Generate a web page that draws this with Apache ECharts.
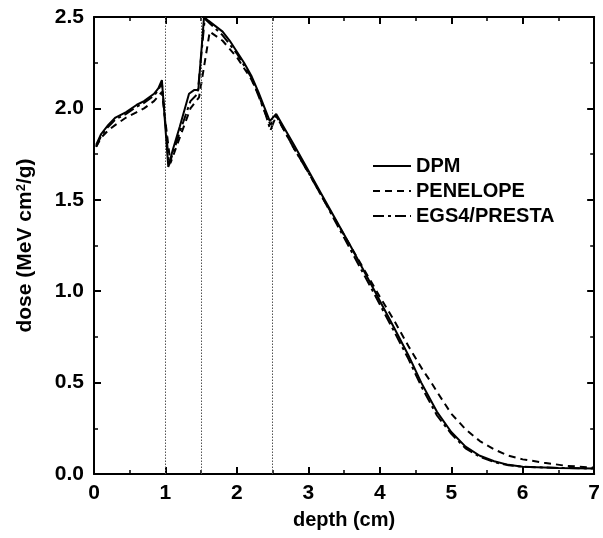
<!DOCTYPE html>
<html><head><meta charset="utf-8">
<script src="https://cdn.jsdelivr.net/npm/echarts@6/dist/echarts.min.js"></script>
<style>html,body{margin:0;padding:0;background:#fff}#c{width:603px;height:538px}</style>
</head><body><div id="c"></div>
<script>
// depth (cm) and dose (MeV cm^2/g)
const dpmX = [0.03,0.1,0.2,0.3,0.45,0.6,0.7,0.84,0.9,0.95,1.04,1.1,1.2,1.33,1.40,1.46,1.54,1.6,1.7,1.8,1.9,2.0,2.1,2.2,2.3,2.4,2.46,2.55,2.8,3.0,3.2,3.6,3.93,4.2,4.4,4.58,4.8,5.0,5.2,5.4,5.6,5.8,6.0,6.5,7.0];
const dpmY = [1.80,1.86,1.91,1.95,1.98,2.02,2.04,2.08,2.11,2.155,1.68,1.77,1.90,2.08,2.10,2.10,2.50,2.48,2.45,2.42,2.37,2.31,2.25,2.18,2.09,1.99,1.93,1.97,1.80,1.66,1.52,1.24,1.00,0.80,0.65,0.50,0.34,0.23,0.15,0.10,0.07,0.05,0.04,0.033,0.03];
const penX = [0.03,0.1,0.2,0.3,0.45,0.6,0.7,0.84,0.95,1.07,1.2,1.35,1.47,1.62,1.8,2.0,2.2,2.3,2.4,2.47,2.55,2.8,3.0,3.2,3.6,4.0,4.2,4.4,4.6,4.72,4.8,5.0,5.2,5.4,5.6,5.8,6.0,6.3,6.6,7.0];
const penY = [1.79,1.84,1.88,1.91,1.95,1.98,2.00,2.04,2.09,1.70,1.84,2.00,2.06,2.42,2.37,2.28,2.16,2.08,1.97,1.91,1.96,1.78,1.65,1.51,1.24,0.97,0.84,0.70,0.57,0.50,0.45,0.33,0.245,0.18,0.135,0.10,0.08,0.062,0.045,0.035];
const egsX = [0.03,0.1,0.2,0.3,0.45,0.6,0.7,0.84,0.9,0.95,1.05,1.2,1.35,1.45,1.55,1.8,2.0,2.2,2.4,2.47,2.55,2.8,3.0,3.2,3.6,3.93,4.2,4.4,4.58,4.8,5.0,5.2,5.4,5.6,5.8,6.0,6.5,7.0];
const egsY = [1.79,1.85,1.90,1.94,1.97,2.01,2.03,2.07,2.10,2.14,1.69,1.87,2.04,2.08,2.49,2.40,2.30,2.17,1.97,1.88,1.96,1.78,1.65,1.51,1.22,0.98,0.78,0.63,0.48,0.32,0.22,0.14,0.095,0.065,0.048,0.04,0.033,0.03];
const xTicks = [0,1,2,3,4,5,6,7];
const yTicks = ['0.0','0.5','1.0','1.5','2.0','2.5'];
const boundaries = [1,1.5,2.5];
const seriesNames = ['DPM','PENELOPE','EGS4/PRESTA'];

const zip = (xs, ys) => xs.map((x, i) => [x, ys[i]]);
const font = 'Liberation Sans, Arial, sans-serif';
const axisLine = {show:true, onZero:false, lineStyle:{color:'#000', width:2}};
const axisTick = {show:true, inside:true, length:7, lineStyle:{color:'#000', width:2}};
const minorTick = {show:true, splitNumber:2, length:4, lineStyle:{color:'#000', width:1.5}};

const chart = echarts.init(document.getElementById('c'), null, {renderer:'canvas'});
chart.setOption({
  animation:false,
  backgroundColor:'#fff',
  grid:{left:94, right:3, top:17, bottom:64},
  legend:{
    orient:'vertical', left:367, top:151, itemGap:5, itemWidth:38, itemHeight:14,
    data:seriesNames,
    itemStyle:{opacity:0},
    textStyle:{fontFamily:font, fontWeight:'bold', fontSize:20, color:'#000'}
  },
  xAxis:[{
    type:'value', min:0, max:7, interval:1, position:'bottom',
    axisLine, axisTick, minorTick, splitLine:{show:false},
    axisLabel:{fontFamily:font, fontWeight:'bold', fontSize:21, color:'#000', margin:9,
      formatter:v=>xTicks.includes(v)?String(v):''},
    name:'depth (cm)', nameLocation:'middle', nameGap:36,
    nameTextStyle:{fontFamily:font, fontWeight:'bold', fontSize:20, color:'#000'}
  },{
    type:'value', min:0, max:7, interval:1, position:'top',
    axisLine, axisTick, minorTick, splitLine:{show:false}, axisLabel:{show:false}
  }],
  yAxis:[{
    type:'value', min:0, max:2.5, interval:0.5, position:'left',
    axisLine, axisTick, minorTick, splitLine:{show:false},
    axisLabel:{fontFamily:font, fontWeight:'bold', fontSize:21, color:'#000', margin:10,
      formatter:v=>yTicks[Math.round(v/0.5)]},
    name:'dose (MeV cm{sup|2}/g)', nameLocation:'middle', nameGap:58, nameRotate:90,
    nameTextStyle:{fontFamily:font, fontWeight:'bold', fontSize:21, color:'#000',
      rich:{sup:{fontFamily:font, fontWeight:'bold', fontSize:13, color:'#000', verticalAlign:'top', lineHeight:12}}}
  },{
    type:'value', min:0, max:2.5, interval:0.5, position:'right',
    axisLine, axisTick, minorTick, splitLine:{show:false}, axisLabel:{show:false}
  }],
  series:[
    {name:seriesNames[0], type:'line', data:zip(dpmX,dpmY), symbol:'none', smooth:false,
      lineStyle:{color:'#000', width:2, type:'solid'}, itemStyle:{color:'#000'}, z:5,
      markLine:{silent:true, symbol:'none', label:{show:false},
        lineStyle:{color:'#555', width:1, type:[1.5,1.5]},
        data:boundaries.map(b=>({xAxis:b}))}},
    {name:seriesNames[1], type:'line', data:zip(penX,penY), symbol:'none',
      lineStyle:{color:'#000', width:2, type:[7,5]}, itemStyle:{color:'#000'}, z:4},
    {name:seriesNames[2], type:'line', data:zip(egsX,egsY), symbol:'none',
      lineStyle:{color:'#000', width:2, type:[11,4,3,4]}, itemStyle:{color:'#000'}, z:3}
  ]
});
</script></body></html>
